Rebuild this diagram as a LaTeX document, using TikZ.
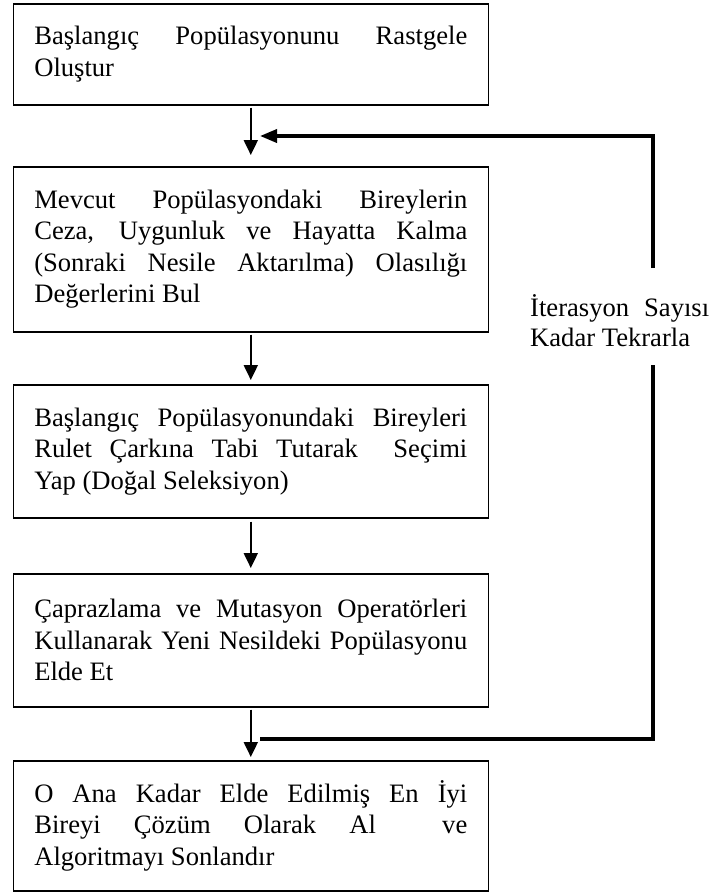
\documentclass[tikz,border=0pt]{standalone}
\usepackage{fontspec}
\setmainfont{Liberation Serif}
\usetikzlibrary{arrows.meta}
\tolerance=10000
\hyphenpenalty=10000

\tikzset{
  boxfont/.style={font=\fontsize{26.6}{31.5}\selectfont},
  stepbox/.style={draw, line width=1.6pt, boxfont, text width=433pt, align=justify,
    inner xsep=21pt, inner ysep=0pt, anchor=north west},
  flow/.style={line width=2pt, -{Triangle[length=15pt,width=14pt]}},
  loopline/.style={line width=3.6pt},
}

\begin{document}
\begin{tikzpicture}[x=1pt,y=-1pt]
        \useasboundingbox (0,0) rectangle (715,892);

        \node[stepbox, minimum height=101pt] (init) at (12.5,3)
          {Başlangıç Popülasyonunu Rastgele\linebreak Oluştur};
        \node[stepbox, minimum height=165pt] (eval) at (12.5,166)
          {Mevcut Popülasyondaki Bireylerin\linebreak Ceza, Uygunluk ve Hayatta Kalma\linebreak
           (Sonraki Nesile Aktarılma) Olasılığı\linebreak Değerlerini Bul};
        \node[stepbox, minimum height=133pt] (select) at (12.5,384)
          {Başlangıç Popülasyonundaki Bireyleri\linebreak Rulet Çarkına Tabi Tutarak\ \ Seçimi\linebreak
           Yap (Doğal Seleksiyon)};
        \node[stepbox, minimum height=133pt] (cross) at (12.5,573)
          {Çaprazlama ve Mutasyon Operatörleri\linebreak Kullanarak Yeni Nesildeki Popülasyonu\linebreak
           Elde Et};
        \node[stepbox, minimum height=130pt] (best) at (12.5,760)
          {O Ana Kadar Elde Edilmiş En İyi\linebreak Bireyi Çözüm Olarak Al\ \ ve\linebreak
           Algoritmayı Sonlandır};

        \node[font=\fontsize{26.6}{30}\selectfont, align=left, anchor=north west, inner sep=0pt] (iter) at (530,294)
          {İterasyon\hspace{15pt}Sayısı\\Kadar Tekrarla};

        \coordinate (backin) at (260,136);
        \coordinate (backout) at (260,739);
        \coordinate (looptop) at (653,136);
        \coordinate (loopbot) at (653,739);
        \coordinate (gaptop) at (653,268);
        \coordinate (gapbot) at (653,365);

        \draw[flow, shorten <=2pt, shorten >=11pt] (init) -- (eval);
        \draw[flow, shorten <=2pt, shorten >=4pt] (eval) -- (select);
        \draw[flow, shorten <=3pt, shorten >=5pt] (select) -- (cross);
        \draw[flow, shorten <=2pt, shorten >=3pt] (cross) -- (best);

        \draw[loopline] (backout) -- (loopbot) -- (gapbot);
        \draw[loopline, -{Triangle[length=17pt,width=13pt]}] (gaptop) -- (looptop) -- (backin);
\end{tikzpicture}
\end{document}
